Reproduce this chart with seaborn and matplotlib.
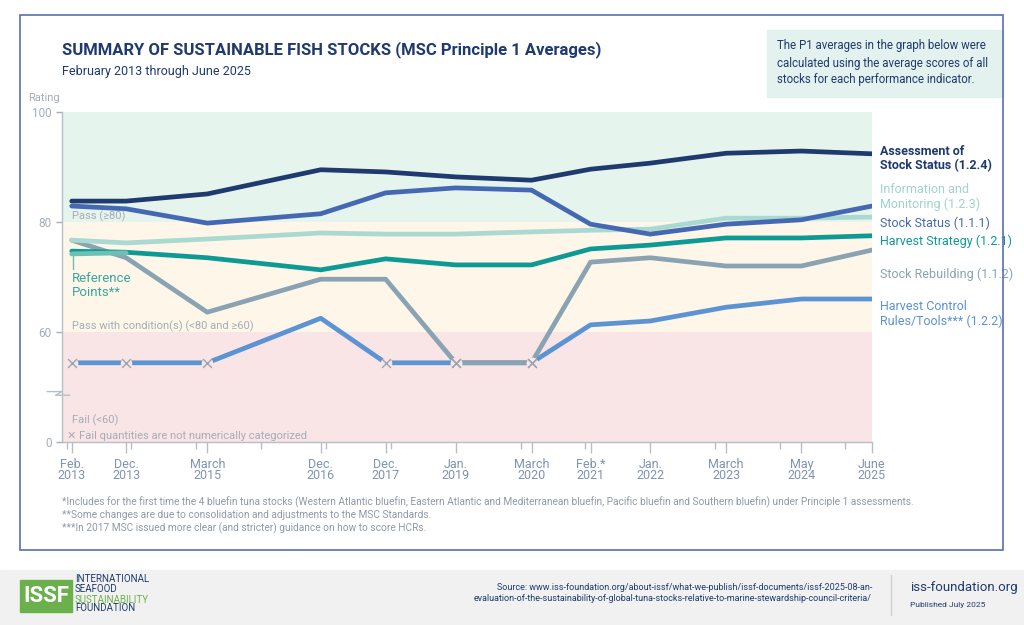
import numpy as np
import pandas as pd
import matplotlib
matplotlib.use("Agg")
import matplotlib.pyplot as plt
import seaborn as sns
from matplotlib.patches import Rectangle

sns.set_theme(style="white")
plt.rcParams['font.family'] = ['Roboto', 'DejaVu Sans']

# ---- data ----
date_labels = ["Feb.\n2013", "Dec.\n2013", "March\n2015", "Dec.\n2016", "Dec.\n2017", "Jan.\n2019",
               "March\n2020", "Feb.*\n2021", "Jan.\n2022", "March\n2023", "May\n2024", "June\n2025"]
date_pos = [2013.08, 2013.92, 2015.17, 2016.92, 2017.92, 2019.0,
            2020.17, 2021.08, 2022.0, 2023.17, 2024.33, 2025.42]
assessment = [83.8, 83.8, 85.1, 89.5, 89.1, 88.2, 87.6, 89.6, 90.7, 92.5, 92.9, 92.4]
stock_status = [82.9, 82.4, 79.8, 81.5, 85.3, 86.2, 85.8, 79.6, 77.8, 79.6, 80.4, 82.9]
info_monitoring = [76.7, 76.2, 76.9, 78.0, 77.8, 77.8, 78.2, 78.5, 78.7, 80.7, 80.7, 80.9]
harvest_strategy = [74.7, 74.5, 73.5, 71.3, 73.3, 72.2, 72.2, 75.1, 75.8, 77.1, 77.1, 77.5]
reference_points = [74.2, 74.4]
stock_rebuilding = [76.7, 73.5, 63.6, 69.6, 69.6, None, None, 72.7, 73.5, 72.0, 72.0, 74.9]
hcr = [None, None, None, 62.5, None, None, None, 61.3, 62.0, 64.5, 66.0, 66.0]
FAIL_Y = 43.2  # display position for non-numeric fail values

def fwd(y):
    y = np.asarray(y, dtype=float)
    return np.where(y >= 60, y, 40 + y / 3)

def inv(p):
    p = np.asarray(p, dtype=float)
    return np.where(p >= 60, p, (p - 40) * 3)

fig = plt.figure(figsize=(10.24, 6.25), dpi=100)
fig.patch.set_facecolor("white")
ax = fig.add_axes([62/1024, 1-442/625, (872-62)/1024, (442-112)/625])
ax.set_yscale('function', functions=(fwd, inv))
ax.set_ylim(0, 100)
ax.set_xlim(2012.93, 2025.42)

ax.axhspan(80, 100, color="#e5f4ec", zorder=0, lw=0)
ax.axhspan(60, 80, color="#fdf6e9", zorder=0, lw=0)
ax.axhspan(0, 60, color="#f9e4e6", zorder=0, lw=0)

def fill(v):
    return [FAIL_Y if x is None else x for x in v]

series = [
    ("hcr", hcr, "#5b93d3"),
    ("reb", stock_rebuilding, "#8aa3b3"),
    ("hs", harvest_strategy, "#0e9a94"),
    ("info", info_monitoring, "#aad9d2"),
    ("ss", stock_status, "#4568b2"),
    ("as", assessment, "#1f3a6e"),
]
lw = 3.4
for name, vals, col in series:
    df = pd.DataFrame({"x": date_pos, "y": fill(vals)})
    sns.lineplot(data=df, x="x", y="y", color=col, lw=lw, ax=ax, zorder=3,
                 solid_capstyle="round")
sns.lineplot(x=date_pos[:2], y=reference_points, color="#6ec0b4", lw=lw, ax=ax, zorder=3)

for vals in (hcr, stock_rebuilding):
    xs = [d for d, v in zip(date_pos, vals) if v is None]
    ax.scatter(xs, [FAIL_Y]*len(xs), marker="o", s=70, color="#f9e4e6", lw=0, zorder=4)
    ax.scatter(xs, [FAIL_Y]*len(xs), marker="x", s=40, color="#9aa5b0", lw=1.0, zorder=5)

ax.set_xlabel(""); ax.set_ylabel("")
for s in ["top", "right"]:
    ax.spines[s].set_visible(False)
for s in ["left", "bottom"]:
    ax.spines[s].set_color("#b8bec6"); ax.spines[s].set_linewidth(1)
ax.set_yticks([0, 60, 80, 100])
ax.set_yticklabels(["0", "60", "80", "100"])
ax.set_xticks(date_pos)
ax.set_xticklabels(date_labels, fontsize=9, color="#7f93b3", linespacing=0.85)
ax.set_xticks(np.arange(2013, 2026), minor=True)
ax.tick_params(axis="y", colors="#a5adb7", labelsize=8.5, length=4, direction="out", left=True, width=1)
ax.tick_params(axis="x", which="both", length=5, direction="out", bottom=True, color="#b8bec6", width=1)
ax.tick_params(axis="x", which="major", length=8)

# break symbol on y-axis
ax.plot([2012.70, 2012.93, 2012.83, 2013.05], [27.5, 27.5, 25.5, 25.5],
        color="#b8bec6", lw=1, clip_on=False, zorder=6)

tc = "#a5adb7"
ax.text(2013.08, 80.4, "Pass (≥80)", fontsize=8, color=tc)
ax.text(2013.08, 60.4, "Pass with condition(s) (<80 and ≥60)", fontsize=8, color=tc)
ax.text(2013.08, 10, "Fail (<60)", fontsize=8, color=tc)
ax.text(2013.0, 1.5, "✕ Fail quantities are not numerically categorized", fontsize=8, color=tc)
ax.text(2012.65, 102, "Rating", fontsize=8, color=tc, ha="center")

ax.plot([2013.1, 2013.1], [73.8, 71.5], color="#6ec0b4", lw=1)
ax.text(2013.08, 71, "Reference\nPoints**", fontsize=9.5, color="#3aa79c", va="top", linespacing=1.1)

rl = [
    (91.5, "Assessment of\nStock Status (1.2.4)", "#1f3a6e", "bold"),
    (84.5, "Information and\nMonitoring (1.2.3)", "#9fd3cb", "normal"),
    (79.7, "Stock Status (1.1.1)", "#4568b2", "normal"),
    (76.5, "Harvest Strategy (1.2.1)", "#0e9a94", "normal"),
    (70.5, "Stock Rebuilding (1.1.2)", "#8aa3b3", "normal"),
    (63.3, "Harvest Control\nRules/Tools*** (1.2.2)", "#5b93d3", "normal"),
]
for y, t, c, w in rl:
    ax.text(2025.55, y, t, fontsize=9, color=c, va="center", fontweight=w,
            clip_on=False, linespacing=1.15)

fig.text(62/1024, 1-50/625, "SUMMARY OF SUSTAINABLE FISH STOCKS (MSC Principle 1 Averages)",
         fontsize=12, color="#1f3a6e", fontweight="bold", va="center")
fig.text(62/1024, 1-72/625, "February 2013 through June 2025", fontsize=9, color="#1f3a6e", va="center")

fig.patches.append(Rectangle((767/1024, 1-97/625), (1003-767)/1024, 67/625,
                             transform=fig.transFigure, color="#e3f2ef", zorder=0))
fig.text(777/1024, 1-63/625, "The P1 averages in the graph below were\ncalculated using the average scores of all\nstocks for each performance indicator.",
         fontsize=8.3, color="#1f3a6e", va="center", linespacing=1.4)

fig.patches.append(Rectangle((20/1024, 1-550/625), (1003-20)/1024, (550-15)/625,
                             transform=fig.transFigure, fill=False, ec="#5a6fad", lw=1.2))

fn = ["*Includes for the first time the 4 bluefin tuna stocks (Western Atlantic bluefin, Eastern Atlantic and Mediterranean bluefin, Pacific bluefin and Southern bluefin) under Principle 1 assessments.",
      "**Some changes are due to consolidation and adjustments to the MSC Standards.",
      "***In 2017 MSC issued more clear (and stricter) guidance on how to score HCRs."]
for i, t in enumerate(fn):
    fig.text(62/1024, 1-(502+13*i)/625, t, fontsize=7.3, color="#8f9aa8", va="center")

fig.patches.append(Rectangle((0, 0), 1, 55/625, transform=fig.transFigure, color="#f1f1f1", zorder=0))
fig.patches.append(Rectangle((20/1024, 1-612/625), 52/1024, 32/625, transform=fig.transFigure, color="#6ab04c"))
fig.text(46/1024, 1-596/625, "ISSF", fontsize=16, color="white", fontweight="bold", ha="center", va="center")
fig.text(75/1024, 1-584/625, "INTERNATIONAL\nSEAFOOD", fontsize=7, color="#1f3a6e", va="center", linespacing=0.9)
fig.text(75/1024, 1-600/625, "SUSTAINABILITY", fontsize=7, color="#6ab04c", va="center")
fig.text(75/1024, 1-608/625, "FOUNDATION", fontsize=7, color="#1f3a6e", va="center")
fig.text(872/1024, 1-593/625, "Source: www.iss-foundation.org/about-issf/what-we-publish/issf-documents/issf-2025-08-an-\nevaluation-of-the-sustainability-of-global-tuna-stocks-relative-to-marine-stewardship-council-criteria/",
         fontsize=6.5, color="#1f3a6e", ha="right", va="center", linespacing=1.3)
fig.lines.append(plt.Line2D([891/1024, 891/1024], [1-615/625, 1-575/625], transform=fig.transFigure, color="#d0d0d0", lw=1))
fig.text(910/1024, 1-588/625, "iss-foundation.org", fontsize=9.5, color="#1f3a6e", va="center")
fig.text(910/1024, 1-605/625, "Published July 2025", fontsize=6, color="#1f3a6e", va="center")

fig.savefig("out.png", dpi=100)
